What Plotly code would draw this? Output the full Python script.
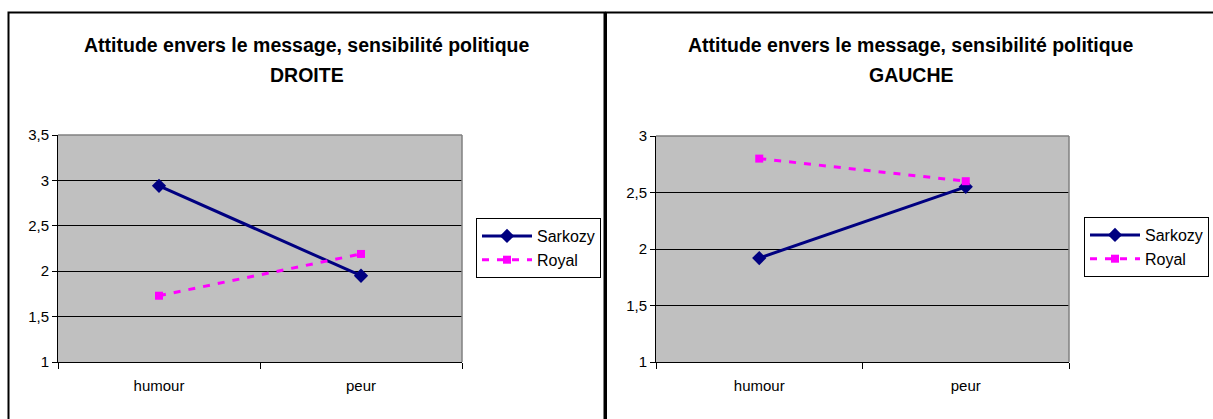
import plotly.graph_objects as go

categories = ["humour", "peur"]
droite_sarkozy = [2.94, 1.95]
droite_royal = [1.73, 2.19]
gauche_sarkozy = [1.92, 2.55]
gauche_royal = [2.80, 2.60]

droite_ticks = [1, 1.5, 2, 2.5, 3, 3.5]
droite_ticktext = ["1", "1,5", "2", "2,5", "3", "3,5"]
gauche_ticks = [1, 1.5, 2, 2.5, 3]
gauche_ticktext = ["1", "1,5", "2", "2,5", "3"]

title_line1 = "Attitude envers le message, sensibilité politique"
title_line2 = ["DROITE", "GAUCHE"]

W, H = 1213, 419
NAVY = "#000080"
MAG = "#FF00FF"
FONT = "Liberation Sans, Arial, sans-serif"


def px(x):
    return x / W


def py(y):
    return 1 - y / H


fig = go.Figure()


def add_series(xa, ya, leg, sark, roy):
    fig.add_trace(go.Scatter(x=categories, y=sark, name="Sarkozy", mode="lines+markers",
                             line=dict(color=NAVY, width=3),
                             marker=dict(symbol="diamond", size=11, color=NAVY),
                             xaxis=xa, yaxis=ya, legend=leg, cliponaxis=False))
    fig.add_trace(go.Scatter(x=categories, y=roy, name="Royal", mode="lines+markers",
                             line=dict(color=MAG, width=3, dash="7px,8px"),
                             marker=dict(symbol="square", size=8, color=MAG),
                             xaxis=xa, yaxis=ya, legend=leg, cliponaxis=False))


add_series("x", "y", "legend", droite_sarkozy, droite_royal)
add_series("x2", "y2", "legend2", gauche_sarkozy, gauche_royal)

axis_common_x = dict(type="category", showgrid=False, showline=True, linecolor="black", linewidth=1,
                     ticks="outside", tickson="boundaries", ticklen=6, tickcolor="black",
                     ticklabelstandoff=10,
                     tickfont=dict(family=FONT, size=15, color="black"), fixedrange=True)
axis_common_y = dict(showgrid=True, gridcolor="black", gridwidth=1, showline=True, linecolor="black",
                     linewidth=1, ticks="outside", ticklen=5, tickcolor="black",
                     tickfont=dict(family=FONT, size=15, color="black"), zeroline=False, fixedrange=True)

legend_common = dict(xanchor="left", yanchor="top", bgcolor="white", bordercolor="black", borderwidth=1,
                     font=dict(family=FONT, size=16, color="black"), tracegroupgap=0, itemwidth=50)

fig.update_layout(
    width=W, height=H,
    margin=dict(l=0, r=0, t=0, b=0, autoexpand=False),
    paper_bgcolor="white",
    plot_bgcolor="#C0C0C0",
    font=dict(family=FONT, color="black"),
    xaxis=dict(domain=[px(58), px(462)], anchor="y", range=[-0.5, 1.5], **axis_common_x),
    yaxis=dict(domain=[py(362), py(135)], anchor="x", range=[1, 3.5],
               tickvals=droite_ticks, ticktext=droite_ticktext, **axis_common_y),
    xaxis2=dict(domain=[px(656), px(1069)], anchor="y2", range=[-0.5, 1.5], **axis_common_x),
    yaxis2=dict(domain=[py(362), py(136)], anchor="x2", range=[1, 3],
                tickvals=gauche_ticks, ticktext=gauche_ticktext, **axis_common_y),
    legend=dict(x=px(476), y=py(218), **legend_common),
    legend2=dict(x=px(1084), y=py(217), **legend_common),
    showlegend=True,
)

# panel borders
fig.add_shape(type="rect", xref="paper", yref="paper", x0=px(8.5), x1=px(604.5), y0=py(440), y1=py(12.5),
              line=dict(color="black", width=2), layer="above")
fig.add_shape(type="rect", xref="paper", yref="paper", x0=px(606), x1=px(1225), y0=py(440), y1=py(12.5),
              line=dict(color="black", width=2), layer="above")
# gray plot-area border (top and right)
for (x0, x1, y0, y1) in [(58, 462, 362, 135), (656, 1069, 362, 136)]:
    fig.add_shape(type="line", xref="paper", yref="paper", x0=px(x0), x1=px(x1), y0=py(y1), y1=py(y1),
                  line=dict(color="#808080", width=1.5), layer="above")
    fig.add_shape(type="line", xref="paper", yref="paper", x0=px(x1), x1=px(x1), y0=py(y0), y1=py(y1),
                  line=dict(color="#808080", width=1.5), layer="above")

for xc, l2 in [(307, title_line2[0]), (911, title_line2[1])]:
    fig.add_annotation(text="<b>" + title_line1 + "</b>", xref="paper", yref="paper",
                       x=px(xc), y=py(45), xanchor="center", yanchor="middle", showarrow=False,
                       font=dict(family=FONT, size=19.5, color="black"))
    fig.add_annotation(text="<b>" + l2 + "</b>", xref="paper", yref="paper",
                       x=px(xc), y=py(75), xanchor="center", yanchor="middle", showarrow=False,
                       font=dict(family=FONT, size=19.5, color="black"))

fig.write_html("out.html", config={"displayModeBar": False},
               post_script="document.body.style.margin='0';document.body.style.overflow='hidden';"
                           "document.documentElement.style.overflow='hidden';")
